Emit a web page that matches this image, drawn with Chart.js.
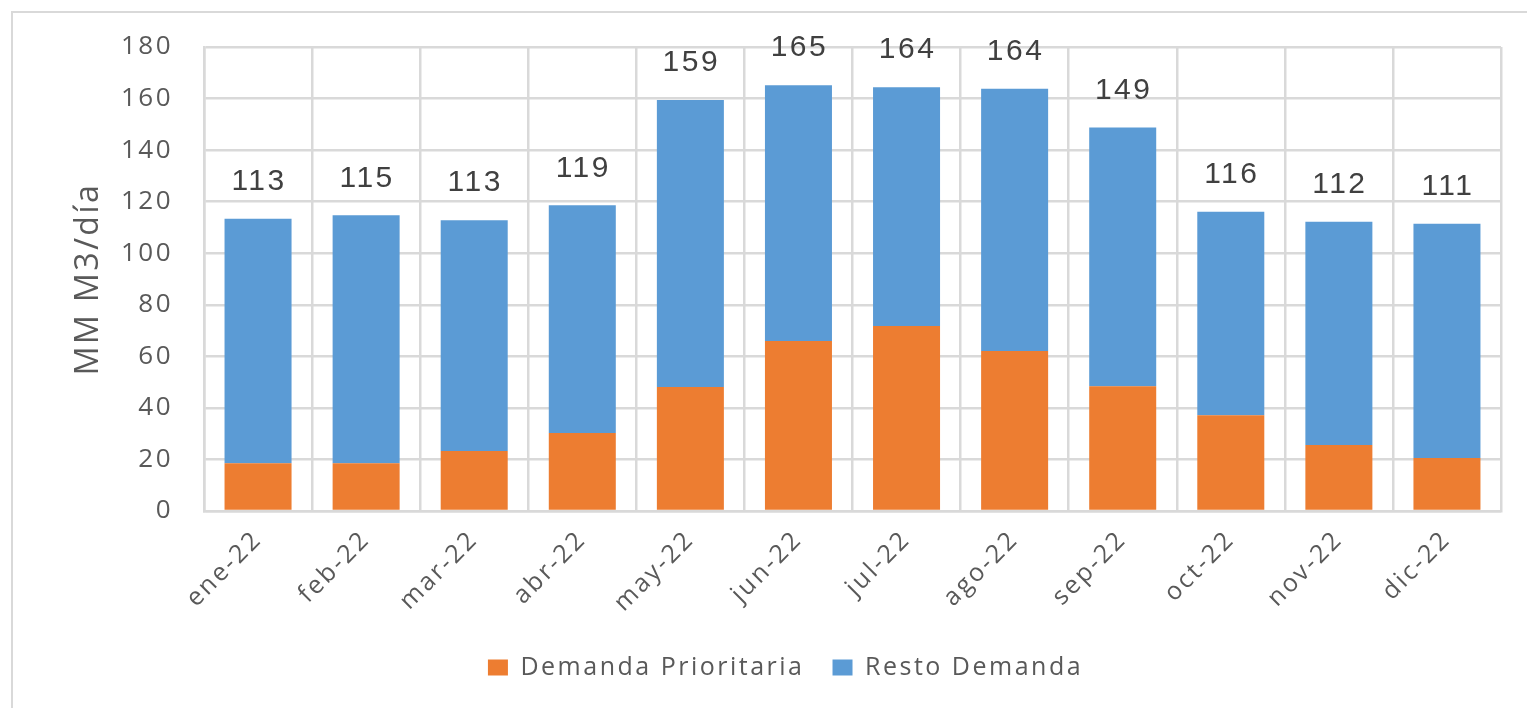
<!DOCTYPE html>
<html>
<head>
<meta charset="utf-8">
<script src="https://cdn.jsdelivr.net/npm/chart.js@4/dist/chart.umd.min.js"></script>
<style>
html,body{margin:0;padding:0;background:#fff;}
#wrap{position:relative;width:1527px;height:708px;overflow:hidden;}
#frame{position:absolute;left:11px;top:11px;width:1600px;height:800px;border:2px solid #d9d9d9;box-sizing:border-box;}
canvas{position:absolute;left:0;top:0;}
</style>
</head>
<body>
<div id="wrap">
<div id="frame"></div>
<canvas id="c" width="1527" height="708"></canvas>
</div>
<script>
const categories = ['ene-22','feb-22','mar-22','abr-22','may-22','jun-22','jul-22','ago-22','sep-22','oct-22','nov-22','dic-22'];
const prioritaria = [18.5,18.5,23.3,30.3,48.1,65.9,71.8,62.1,48.4,37.1,25.6,20.6];
const resto = [94.9,96.2,89.5,88.3,111.3,99.3,92.6,101.7,100.4,79.0,86.6,90.8];
const yTicks = [0,20,40,60,80,100,120,140,160,180];

const SPACING = '2.5px';
const spacingPlugin = {
  id: 'spacing',
  beforeLayout(chart) { chart.ctx.letterSpacing = SPACING; },
  beforeDraw(chart) { chart.ctx.letterSpacing = SPACING; }
};

const totalLabels = {
  id: 'totalLabels',
  afterDatasetsDraw(chart) {
    const ctx = chart.ctx;
    const meta = chart.getDatasetMeta(1);
    ctx.save();
    ctx.letterSpacing = SPACING;
    ctx.font = '30px "Liberation Sans", Arial, sans-serif';
    ctx.fillStyle = '#404040';
    ctx.textAlign = 'center';
    ctx.textBaseline = 'middle';
    meta.data.forEach((bar, i) => {
      const total = Math.round(prioritaria[i] + resto[i]);
      ctx.fillText(String(total), bar.x + 1, bar.y - 37);
    });
    ctx.restore();
  }
};

new Chart(document.getElementById('c'), {
  type: 'bar',
  data: {
    labels: categories,
    datasets: [
      { label: 'Demanda Prioritaria', data: prioritaria, backgroundColor: '#ed7d31', barPercentage: 0.62, categoryPercentage: 1 },
      { label: 'Resto Demanda', data: resto, backgroundColor: '#5b9bd5', barPercentage: 0.62, categoryPercentage: 1 }
    ]
  },
  options: {
    responsive: false,
    animation: false,
    layout: { padding: { left: 70, right: 26, top: 47, bottom: 18 } },
    plugins: {
      legend: {
        position: 'bottom',
        labels: {
          boxWidth: 20, boxHeight: 16, padding: 28,
          color: '#595959',
          font: { family: '"Open Sans", sans-serif', size: 25 }
        }
      },
      tooltip: { enabled: false }
    },
    scales: {
      x: {
        stacked: true,
        grid: { color: '#d9d9d9', lineWidth: 2.5, drawTicks: false, offset: true },
        border: { color: '#d9d9d9', width: 2.5 },
        ticks: {
          color: '#595959', maxRotation: 45, minRotation: 45, padding: 14,
          font: { family: '"Open Sans", sans-serif', size: 25 }
        },
        afterFit(s) { s.height = 116; }
      },
      y: {
        stacked: true,
        min: 0, max: 180,
        afterBuildTicks(s) { s.ticks = yTicks.map(v => ({ value: v })); },
        grid: { color: '#d9d9d9', lineWidth: 2.5, drawTicks: false },
        border: { color: '#d9d9d9', width: 2.5 },
        ticks: {
          color: '#595959', padding: 31,
          font: { family: '"Open Sans", sans-serif', size: 26 }
        },
        title: {
          display: true, text: 'MM M3/día', color: '#595959',
          font: { family: '"Open Sans", sans-serif', size: 32 },
          padding: { top: 0, bottom: 0 }
        },
        afterFit(s) { s.width = 134; }
      }
    }
  },
  plugins: [spacingPlugin, totalLabels]
});
</script>
</body>
</html>
